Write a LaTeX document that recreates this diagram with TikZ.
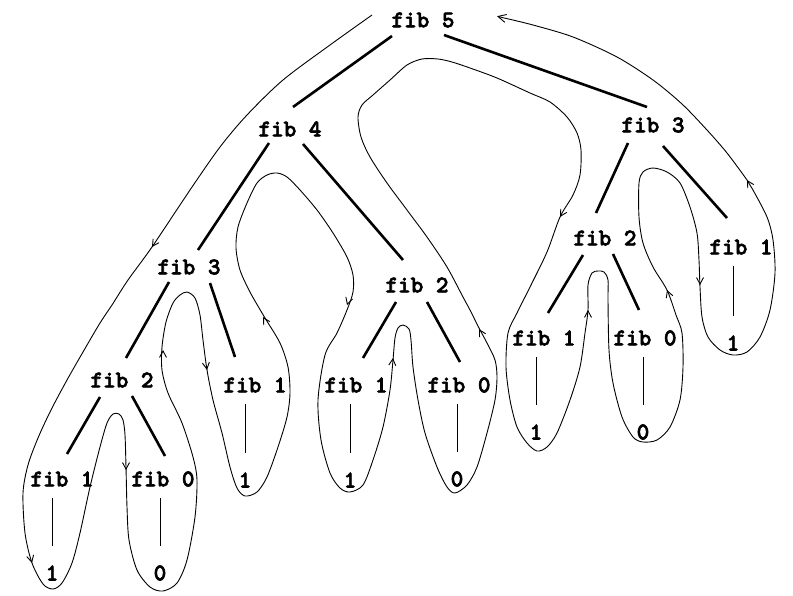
\documentclass[tikz,border=0pt]{standalone}
\usepackage{fontspec}
\newfontfamily\fibfont{lmmonolt10-bold.otf}[FakeBold=2.5]
\usetikzlibrary{calc,arrows.meta}
\begin{document}
\begin{tikzpicture}[x=1pt,y=-1pt,
  lbl/.style={inner sep=0pt, font=\fibfont\fontsize{24}{28}\selectfont},
  edge/.style={line width=2.6pt},
  leafline/.style={line width=0.9pt, shorten <=11.5pt, shorten >=19.5pt},
  contour/.style={line width=0.9pt},
  midarrow/.style={line width=0.9pt, -{Straight Barb[length=6.5pt,width=7pt]}},
  endarrow/.style={line width=0.9pt, -{Straight Barb[length=8pt,width=8pt]}},
]
\useasboundingbox (0,0) rectangle (793,595);
% tree nodes
\node[lbl] (f5)  at (423,20)  {fib 5};
\node[lbl] (f4)  at (290,129) {fib 4};
\node[lbl] (f3r) at (653,125) {fib 3};
\node[lbl] (f3l) at (189,267) {fib 3};
\node[lbl] (f2m) at (417,285) {fib 2};
\node[lbl] (f2r) at (605,238) {fib 2};
\node[lbl] (f1r) at (741,247) {fib 1};
\node[lbl] (f2l) at (122,380) {fib 2};
\node[lbl] (f1a) at (255,385) {fib 1};
\node[lbl] (f1b) at (356,385) {fib 1};
\node[lbl] (f0b) at (459,385) {fib 0};
\node[lbl] (f1c) at (544,338) {fib 1};
\node[lbl] (f0c) at (645,338) {fib 0};
\node[lbl] (f1l) at (62,479)  {fib 1};
\node[lbl] (f0l) at (163,479) {fib 0};
% leaf values
\node[lbl] (v1l) at (52,573)  {1};
\node[lbl] (v0l) at (160,573) {0};
\node[lbl] (v1a) at (245,480) {1};
\node[lbl] (v1b) at (350,480) {1};
\node[lbl] (v0b) at (457,479) {0};
\node[lbl] (v1c) at (536,432) {1};
\node[lbl] (v0c) at (643,432) {0};
\node[lbl] (v1r) at (733,343) {1};
% thick tree edges
\draw[edge] ($(f5)+(-31,16)$)  -- ($(f4)+(3,-22)$);
\draw[edge] ($(f5)+(21,15)$)   -- ($(f3r)+(-6,-18)$);
\draw[edge] ($(f4)+(-21,14)$)  -- ($(f3l)+(9,-17)$);
\draw[edge] ($(f4)+(13,15)$)   -- ($(f2m)+(-14,-25)$);
\draw[edge] ($(f3r)+(-25,18)$) -- ($(f2r)+(-9,-25)$);
\draw[edge] ($(f3r)+(10,21)$)  -- ($(f1r)+(-14,-29)$);
\draw[edge] ($(f3l)+(-20,15)$) -- ($(f2l)+(4,-22)$);
\draw[edge] ($(f3l)+(21,16)$)  -- ($(f1a)+(-20,-28)$);
\draw[edge] ($(f2l)+(-22,17)$) -- ($(f1l)+(5,-25)$);
\draw[edge] ($(f2l)+(10,16)$)  -- ($(f0l)+(2,-23)$);
\draw[edge] ($(f2m)+(-21,17)$) -- ($(f1b)+(7,-27)$);
\draw[edge] ($(f2m)+(10,17)$)  -- ($(f0b)+(1,-23)$);
\draw[edge] ($(f2r)+(-22,17)$) -- ($(f1c)+(4,-25)$);
\draw[edge] ($(f2r)+(8,16)$)   -- ($(f0c)+(-6,-28)$);
% thin leaf lines
\draw[leafline] (v1l |- f1l.south) -- (v1l.north);
\draw[leafline] (v0l |- f0l.south) -- (v0l.north);
\draw[leafline] (v1a |- f1a.south) -- (v1a.north);
\draw[leafline] (v1b |- f1b.south) -- (v1b.north);
\draw[leafline] (v0b |- f0b.south) -- (v0b.north);
\draw[leafline] (v1c |- f1c.south) -- (v1c.north);
\draw[leafline] (v0c |- f0c.south) -- (v0c.north);
\draw[leafline] (v1r |- f1r.south) -- (v1r.north);
% traversal contour
\draw[contour] plot[smooth, tension=0.5] coordinates {
(372,15) (330,45) (283,80) (247,115) (220,147) (190,190) (152,247) (128,280)
(112,305) (100,323) (83,352) (67,380) (51,410) (38,438) (28,465) (23,493) (25,533) (32,563) (43,584)
(53,589) (62,583) (72,563) (80,533) (90,487) (100,447) (107,423) (113,414)
(119,414) (123,420) (125,435) (126,467) (127,507) (129,540) (137,570) (150,587)
(163,591) (177,583) (187,560) (195,517) (197,480) (193,457) (182,423) (168,393)
(162,370) (162,347) (166,322) (173,303) (180,295) (187,292) (195,298) (200,315)
(203,340) (207,370) (213,400) (222,433) (230,467) (237,488) (245,496) (257,492)
(267,477) (278,447) (287,417) (290,393) (288,367) (280,343) (265,318) (250,292)
(240,270) (236,248) (238,227) (247,203) (257,183) (267,175) (277,173) (287,177)
(300,190) (317,210) (333,233) (347,257) (353,275) (353,292) (347,310) (337,333)
(325,355) (318,400) (321,440) (330,473) (340,488) (350,492) (363,485) (373,460)
(383,427) (390,390) (393,360) (395,338) (398,328) (403,325) (409,329) (411,340)
(413,367) (418,400) (425,433) (437,467) (447,487) (455,493) (467,485) (477,467)
(487,433) (495,400) (497,377) (495,360) (487,343) (479,328) (470,310) (463,297)
(447,267) (427,237) (407,210) (387,183) (370,157) (361,137) (358,117) (362,105)
(373,95) (390,80) (407,65) (422,59) (438,59) (452,62) (470,68) (497,78)
(530,93) (550,102) (567,117) (577,133) (581,150) (580,175) (573,195) (560,217)
(547,252) (530,287) (517,313) (508,333) (506,367) (510,400) (517,427) (527,443)
(537,451) (547,447) (557,433) (570,400) (580,367) (585,333) (588,310) (588,285)
(592,273) (598,271) (604,272) (608,280) (608,300) (609,350) (613,383) (622,417)
(633,437) (643,442) (657,440) (670,427) (680,400) (683,367) (682,333) (676,315)
(667,290) (653,267) (643,243) (639,217) (639,183) (643,172) (653,168) (667,172)
(680,183) (690,207) (697,233) (699,260) (700,287) (702,317) (708,337) (720,350)
(733,355) (747,352) (760,337) (770,310) (775,273) (773,240) (767,217) (753,190)
(747,180) (727,153) (707,130) (682,104) (653,80) (617,57) (573,37) (533,25)
(503,17.7)};
% direction marks along the contour
\draw[midarrow] (153.1,245.3) -- (152,247);
\draw[midarrow] (31.5,561) -- (32,563);
\draw[midarrow] (126,468) -- (126,470);
\draw[midarrow] (163,352) -- (163,350);
\draw[midarrow] (206.7,368) -- (207,370);
\draw[midarrow] (264,318.7) -- (263,317);
\draw[midarrow] (347.6,303.1) -- (347,305);
\draw[midarrow] (392.8,360) -- (393,358);
\draw[midarrow] (480,330.8) -- (479,329);
\draw[midarrow] (561,215.3) -- (560,217);
\draw[midarrow] (588,312) -- (588,310);
\draw[midarrow] (667.7,291.9) -- (667,290);
\draw[midarrow] (700,283) -- (700,285);
\draw[midarrow] (748,181.7) -- (747,180);
\draw[endarrow] (503,17.7) -- (497,16.2);
\end{tikzpicture}
\end{document}
